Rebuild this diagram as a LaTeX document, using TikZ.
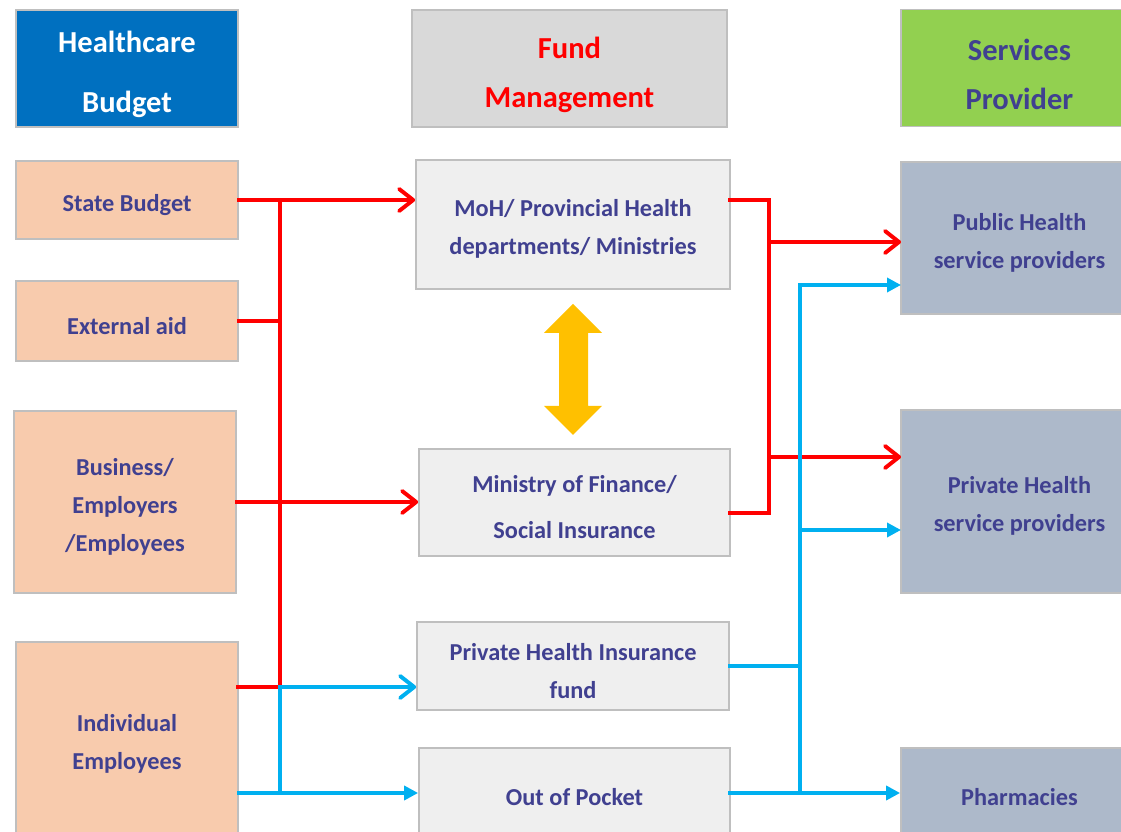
\documentclass[tikz,border=0pt]{standalone}
\usepackage{fontspec}
\setmainfont{Carlito}
\usetikzlibrary{arrows.meta}

\definecolor{headblue}{HTML}{0070C0}
\definecolor{headgray}{HTML}{D9D9D9}
\definecolor{headgreen}{HTML}{92D050}
\definecolor{srcpeach}{HTML}{F8CBAD}
\definecolor{fundgray}{HTML}{EFEFEF}
\definecolor{provblue}{HTML}{ADB9CA}
\definecolor{boxgray}{HTML}{BFBFBF}
\definecolor{txtblue}{RGB}{64,64,144}
\definecolor{flowred}{HTML}{FF0000}
\definecolor{flowcyan}{HTML}{00B0F0}
\definecolor{swapyellow}{HTML}{FFC000}

% room above the first line, as in the original text boxes
\newcommand{\tstrut}{\rule{0pt}{1.1em}}

\begin{document}
\begin{tikzpicture}[x=0.025cm, y=-0.025cm, line join=miter, line cap=rect,
    every node/.style={draw=boxgray, line width=1.2pt, align=center, inner sep=0pt, text=txtblue,
        font=\bfseries\fontsize{17.3}{27}\selectfont},
    head/.style={minimum height=2.925cm, font=\bfseries\fontsize{21.7}{34.9}\selectfont},
    src/.style={fill=srcpeach, minimum width=5.55cm},
    fund/.style={fill=fundgray},
    prov/.style={fill=provblue, minimum width=5.925cm},
    redline/.style={draw=flowred, line width=2.8pt},
    blueline/.style={draw=flowcyan, line width=2.8pt},
    barb/.style={-{Straight Barb[length=3.5mm, width=5.5mm, round]}},
    tri/.style={-{Triangle[length=3.5mm, width=3.5mm]}}]
    \path[use as bounding box] (0,0) rectangle (1121,832);
    \clip (0,0) rectangle (1121,832);

    % Column heads
    \node[head, fill=headblue, text=white, minimum width=5.55cm, font=\bfseries\fontsize{21.7}{42.7}\selectfont] (hcb) at (127,68.5) {\tstrut Healthcare\\Budget};
    \node[head, fill=headgray, text=flowred, minimum width=7.875cm] (fm) at (569.5,68.5) {\tstrut Fund\\Management};
    \node[head, fill=headgreen, minimum width=5.925cm] (sp) at (1019.5,68) {\tstrut Services\\Provider};

    % Healthcare budget
    \node[src, minimum height=1.95cm] (state) at (127,200) {\tstrut State Budget};
    \node[src, minimum height=2cm] (ext) at (127,321) {\tstrut External aid};
    \node[src, minimum height=4.55cm] (bus) at (125,502) {\tstrut Business/\\Employers\\/Employees};
    \node[src, minimum height=4.85cm] (indiv) at (127,739) {\tstrut Individual\\Employees};

    % Fund management
    \node[fund, minimum width=7.85cm, minimum height=3.225cm] (moh) at (573,224.5) {\tstrut MoH/ Provincial Health\\departments/ Ministries};
    \node[fund, minimum width=7.775cm, minimum height=2.675cm, font=\bfseries\fontsize{17.3}{32.7}\selectfont] (mof) at (574.5,502.5) {\tstrut Ministry of Finance/\\Social Insurance};
    \node[fund, minimum width=7.8cm, minimum height=2.2cm] (phi) at (573,666) {\tstrut Private Health Insurance\\fund};
    \node[fund, minimum width=7.775cm, minimum height=2.225cm] (oop) at (574.5,792.5) {\tstrut Out of Pocket};

    % Services provider
    \node[prov, minimum height=3.8cm] (pub) at (1019.5,238) {\tstrut Public Health\\service providers};
    \node[prov, minimum height=4.575cm] (priv) at (1019.5,501.5) {\tstrut Private Health\\service providers};
    \node[prov, minimum height=2.225cm] (pharm) at (1019.5,792.5) {\tstrut Pharmacies};

    % Bus lines and branch points
    \coordinate (lbus) at (280,0);
    \coordinate (rbus) at (769,0);
    \coordinate (bbus) at (800,0);
    \coordinate (indred) at (238,687);
    \coordinate (indblue) at (239,793);
    \coordinate (mohout) at (730,200);
    \coordinate (mofout) at (730,513);
    \coordinate (pubred) at (901,242);
    \coordinate (pubblue) at (901,285);
    \coordinate (privred) at (901,457);
    \coordinate (privblue) at (901,530);
    \coordinate (oopout) at (730,793);

    % Budget to funds
    \draw[redline, barb] (state.east) -- (state.east -| moh.west);
    \draw[redline] (state.east -| lbus) -- (indred -| lbus) -- (indred);
    \draw[redline] (ext.east) -- (ext.east -| lbus);
    \draw[redline, barb] (bus.east) -- (bus.east -| mof.west);
    \draw[blueline, barb] (indred -| lbus) -- (indred -| phi.west);
    \draw[blueline] (indred -| lbus) -- (indblue -| lbus);
    \draw[blueline, tri] (indblue) -- (indblue -| oop.west);

    % Funds to providers
    \draw[redline] (mohout) -- (mohout -| rbus) -- (mofout -| rbus) -- (mofout);
    \draw[redline, barb] (pubred -| rbus) -- (pubred);
    \draw[redline, barb] (privred -| rbus) -- (privred);
    \draw[blueline] (pubblue -| bbus) -- (oopout -| bbus);
    \draw[blueline, tri] (pubblue -| bbus) -- (pubblue);
    \draw[blueline, tri] (privblue -| bbus) -- (privblue);
    \draw[blueline] (phi.east) -- (phi.east -| bbus);
    \draw[blueline, tri] (oopout) -- (oopout -| pharm.west);

    % Two-way link between ministries
    \fill[swapyellow] (573,304) -- (602,333) -- (588,333) -- (588,406) -- (602,406) -- (573,435)
        -- (544,406) -- (559,406) -- (559,333) -- (544,333) -- cycle;
\end{tikzpicture}
\end{document}
